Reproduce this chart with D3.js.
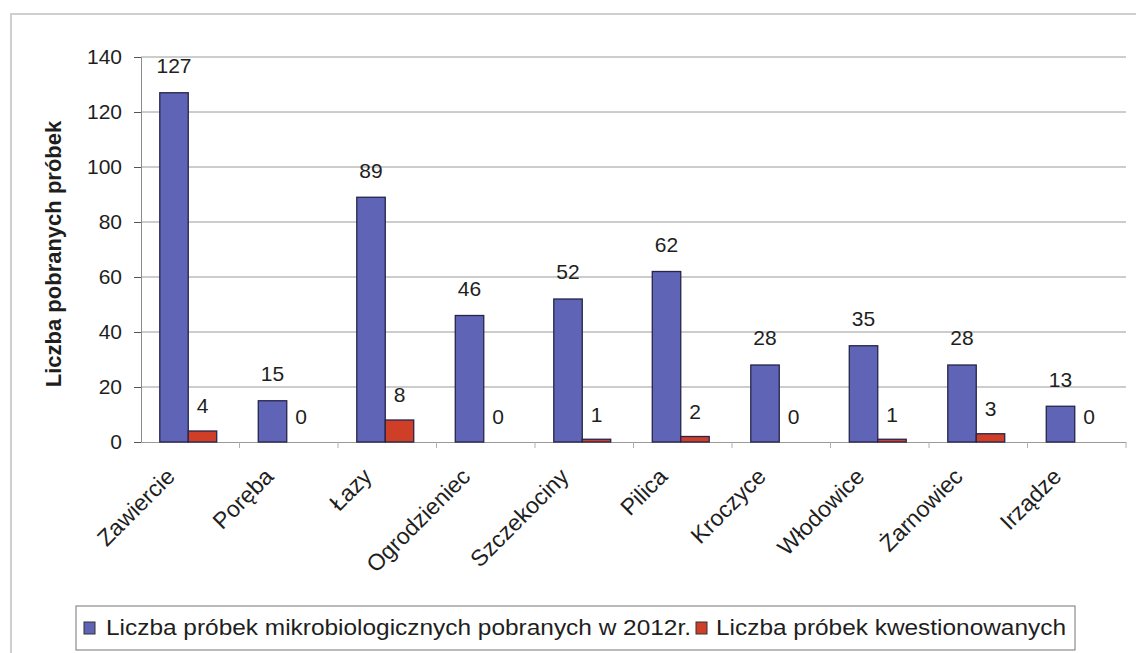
<!DOCTYPE html>
<html>
<head>
<meta charset="utf-8">
<script src="https://cdn.jsdelivr.net/npm/d3@7"></script>
<style>
  html, body { margin: 0; padding: 0; background: #ffffff; }
  svg { display: block; }
  text { font-family: "Liberation Sans", Arial, sans-serif; fill: #1e1e1e; }
</style>
</head>
<body>
<svg id="chart" width="1136" height="653"></svg>
<script>
const categories = ["Zawiercie", "Poręba", "Łazy", "Ogrodzieniec", "Szczekociny", "Pilica", "Kroczyce", "Włodowice", "Żarnowiec", "Irządze"];
const seriesNames = ["Liczba próbek mikrobiologicznych pobranych w 2012r.", "Liczba próbek kwestionowanych"];
const sampled = [127, 15, 89, 46, 52, 62, 28, 35, 28, 13];
const questioned = [4, 0, 8, 0, 1, 2, 0, 1, 3, 0];
const yTicks = [0, 20, 40, 60, 80, 100, 120, 140];
const yTitle = "Liczba pobranych próbek";

const seriesValues = [sampled, questioned];
const colors = ["#5f64b6", "#cf3f28"];

const svg = d3.select("#chart");

// outer frame
svg.append("rect").attr("x", 11).attr("y", 14).attr("width", 1140).attr("height", 650)
  .attr("fill", "none").attr("stroke", "#cfcfcf").attr("stroke-width", 2);

const plot = { left: 141, right: 1126, top: 57, bottom: 442 };

const x0 = d3.scaleBand().domain(categories).range([plot.left, plot.right]).paddingInner(0).paddingOuter(0);
const x1 = d3.scaleBand().domain([0, 1]).range([0, x0.bandwidth()]).paddingInner(0).paddingOuter(0.73);
const y = d3.scaleLinear().domain([0, 140]).range([plot.bottom, plot.top]);

// gridlines
svg.append("g").selectAll("line").data(yTicks.filter(t => t > 0)).join("line")
  .attr("x1", plot.left).attr("x2", plot.right)
  .attr("y1", d => y(d)).attr("y2", d => y(d))
  .attr("stroke", "#9a9a9a").attr("stroke-width", 1);

// y axis
const yAxis = svg.append("g").attr("transform", `translate(${plot.left},0)`)
  .call(d3.axisLeft(y).tickValues(yTicks).tickSize(7).tickPadding(12));
yAxis.select(".domain").attr("stroke", "#8a8a8a");
yAxis.selectAll(".tick line").attr("stroke", "#555");
yAxis.selectAll(".tick text").style("font-size", "21px").attr("fill", "#1e1e1e")
  .style("font-family", "'Liberation Sans', Arial, sans-serif");

// x axis
const xAxis = svg.append("g").attr("transform", `translate(0,${plot.bottom})`)
  .call(d3.axisBottom(x0).tickSize(0).tickFormat(""));
xAxis.select(".domain").attr("stroke", "#9a9a9a");
svg.append("g").selectAll("line").data(categories).join("line")
  .attr("x1", d => x0(d) + x0.bandwidth())
  .attr("x2", d => x0(d) + x0.bandwidth())
  .attr("y1", plot.bottom).attr("y2", plot.bottom + 6)
  .attr("stroke", "#b0b0b0");

// bars
const groups = svg.append("g").selectAll("g").data(categories).join("g")
  .attr("transform", d => `translate(${x0(d) - 2},0)`);

groups.each(function (cat, ci) {
  const g = d3.select(this);
  seriesValues.forEach((vals, si) => {
    const v = vals[ci];
    g.append("rect")
      .attr("x", x1(si)).attr("width", x1.bandwidth())
      .attr("y", y(v)).attr("height", y(0) - y(v))
      .attr("fill", colors[si])
      .attr("stroke", "#25254a").attr("stroke-width", 1.3);
    g.append("text")
      .attr("x", x1(si) + x1.bandwidth() / 2)
      .attr("y", y(v) - (si === 0 ? 27 : 25))
      .attr("dy", "0.35em")
      .attr("text-anchor", "middle")
      .style("font-size", "21px")
      .text(v);
  });
});

// category labels
svg.append("g").selectAll("text").data(categories).join("text")
  .attr("transform", d => `translate(${x0(d) + x0.bandwidth() / 2 - 14},${plot.bottom + 36}) rotate(-45)`)
  .attr("text-anchor", "end")
  .style("font-size", "23px")
  .text(d => d);

// y title
svg.append("text")
  .attr("transform", `translate(61,254) rotate(-90)`)
  .attr("text-anchor", "middle")
  .style("font-size", "22px").style("font-weight", "bold")
  .text(yTitle);

// legend
const lg = svg.append("g");
lg.append("rect").attr("x", 76).attr("y", 606).attr("width", 999).attr("height", 44)
  .attr("fill", "#fff").attr("stroke", "#8c8c8c").attr("stroke-width", 1.2);
const legendItems = [
  { x: 84, tx: 106, len: 585 },
  { x: 696, tx: 716, len: 350 }
];
legendItems.forEach((it, i) => {
  lg.append("rect").attr("x", it.x).attr("y", 622).attr("width", 11).attr("height", 12)
    .attr("fill", colors[i]).attr("stroke", "#333").attr("stroke-width", 1);
  lg.append("text").attr("x", it.tx).attr("y", 635)
    .style("font-size", "22px")
    .attr("textLength", it.len).attr("lengthAdjust", "spacingAndGlyphs")
    .text(seriesNames[i]);
});
</script>
</body>
</html>
